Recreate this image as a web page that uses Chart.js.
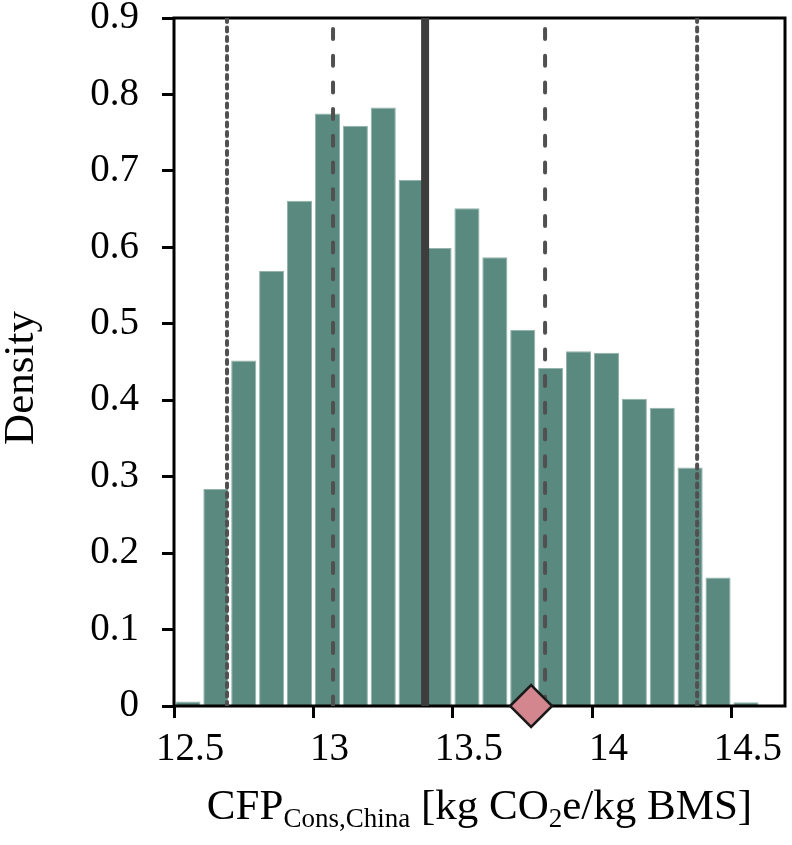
<!DOCTYPE html>
<html>
<head>
<meta charset="utf-8">
<script src="https://cdn.jsdelivr.net/npm/chart.js@4"></script>
<style>
  html, body { margin: 0; padding: 0; background: #fff; }
  canvas { display: block; }
</style>
</head>
<body>
<canvas id="chart" width="792" height="845"></canvas>
<script>
// Histogram bins (bin centres, width 0.1) and densities
const binCenters = [12.55, 12.65, 12.75, 12.85, 12.95, 13.05, 13.15, 13.25, 13.35, 13.45,
    13.55, 13.65, 13.75, 13.85, 13.95, 14.05, 14.15, 14.25, 14.35, 14.45, 14.55];
const densities = [0.006, 0.284, 0.452, 0.569, 0.661, 0.775, 0.759, 0.783, 0.688, 0.599,
    0.651, 0.587, 0.492, 0.442, 0.464, 0.462, 0.402, 0.390, 0.312, 0.168, 0.005];

// Reference lines
const meanValue = 13.40;
const innerBounds = [13.07, 13.83];
const outerBounds = [12.69, 14.375];
const markerValue = 13.78;

// Axes
const xTicks = [12.5, 13, 13.5, 14, 14.5];
const xRange = [12.5, 14.69];
const yRange = [0, 0.9];

const FONT = '"Liberation Serif", "Times New Roman", serif';

function vLine(v) {
    return [{ x: v, y: yRange[1] }, { x: v, y: yRange[0] }];
}

// Frame around the plot, drawn right after the bars
const framePlugin = {
    id: 'frame',
    afterDatasetDraw(chart, args) {
        if (args.index !== 0) return;
        const { ctx, chartArea: a } = chart;
        ctx.save();
        ctx.strokeStyle = '#000';
        ctx.lineWidth = 3;
        ctx.strokeRect(a.left, a.top, a.right - a.left, a.bottom - a.top);
        ctx.restore();
    }
};

// Axis titles (x title needs subscripts)
const titlePlugin = {
    id: 'titles',
    afterDraw(chart) {
        const { ctx, chartArea: a } = chart;
        ctx.save();
        ctx.fillStyle = '#000';

        ctx.translate(33, 378);
        ctx.rotate(-Math.PI / 2);
        ctx.font = '43px ' + FONT;
        ctx.textAlign = 'center';
        ctx.textBaseline = 'alphabetic';
        ctx.fillText('Density', 0, 0);
        ctx.setTransform(1, 0, 0, 1, 0, 0);

        const parts = [
            ['CFP', 43, 0],
            ['Cons,China', 27, 8],
            [' [kg CO', 43, 0],
            ['2', 27, 8],
            ['e/kg BMS]', 43, 0]
        ];
        ctx.textAlign = 'left';
        let total = 0;
        parts.forEach(p => { ctx.font = p[1] + 'px ' + FONT; total += ctx.measureText(p[0]).width; });
        let x = (a.left + a.right) / 2 - total / 2;
        const base = 819;
        parts.forEach(p => {
            ctx.font = p[1] + 'px ' + FONT;
            ctx.fillText(p[0], x, base + p[2]);
            x += ctx.measureText(p[0]).width;
        });
        ctx.restore();
    }
};

new Chart(document.getElementById('chart'), {
    type: 'bar',
    data: {
        datasets: [
            {
                type: 'bar',
                data: binCenters.map((c, i) => ({ x: c, y: densities[i] })),
                backgroundColor: '#5a897f',
                borderColor: '#93b3ab',
                borderWidth: 1,
                barPercentage: 0.9,
                categoryPercentage: 1,
                order: 3
            },
            {
                type: 'line',
                data: vLine(meanValue),
                borderColor: '#3d3d3d',
                borderWidth: 8,
                pointRadius: 0,
                order: 2
            },
            ...innerBounds.map(v => ({
                type: 'line',
                data: vLine(v),
                borderColor: '#505050',
                borderWidth: 4,
                borderCapStyle: 'round',
                borderDash: [10, 16.7],
                borderDashOffset: -11,
                pointRadius: 0,
                order: 2
            })),
            ...outerBounds.map(v => ({
                type: 'line',
                data: vLine(v),
                borderColor: '#505050',
                borderWidth: 4,
                borderCapStyle: 'round',
                borderDash: [4, 5.5],
                pointRadius: 0,
                order: 2
            })),
            {
                type: 'line',
                data: [{ x: markerValue, y: 0 }],
                showLine: false,
                pointStyle: 'rectRot',
                pointRadius: 21,
                pointBackgroundColor: '#d3868d',
                pointBorderColor: '#1a1a1a',
                pointBorderWidth: 2.5,
                clip: false,
                order: 1
            }
        ]
    },
    options: {
        responsive: false,
        animation: false,
        layout: { autoPadding: false, padding: { top: 18, right: 7, bottom: 0, left: 0 } },
        plugins: {
            legend: { display: false },
            tooltip: { enabled: false }
        },
        scales: {
            x: {
                type: 'linear',
                min: xRange[0],
                max: xRange[1],
                offset: false,
                grid: { display: true, offset: false, drawOnChartArea: false, tickLength: 12, tickWidth: 3, tickColor: '#000' },
                border: { display: false },
                afterBuildTicks: scale => { scale.ticks = xTicks.map(v => ({ value: v })); },
                afterFit: scale => { scale.height = 139; scale.paddingLeft = 0; scale.paddingRight = 0; },
                ticks: {
                    font: { family: FONT, size: 39 },
                    color: '#000',
                    padding: 8,
                    labelOffset: 16,
                    maxRotation: 0,
                    autoSkip: false,
                    callback: v => String(v)
                }
            },
            y: {
                min: yRange[0],
                max: yRange[1],
                grid: { display: true, drawOnChartArea: false, tickLength: 12, tickWidth: 3, tickColor: '#000' },
                border: { display: false },
                afterFit: scale => { scale.width = 174; scale.paddingTop = 0; scale.paddingBottom = 0; },
                ticks: {
                    stepSize: 0.1,
                    font: { family: FONT, size: 39 },
                    color: '#000',
                    padding: 23
                }
            }
        }
    },
    plugins: [framePlugin, titlePlugin]
});
</script>
</body>
</html>
